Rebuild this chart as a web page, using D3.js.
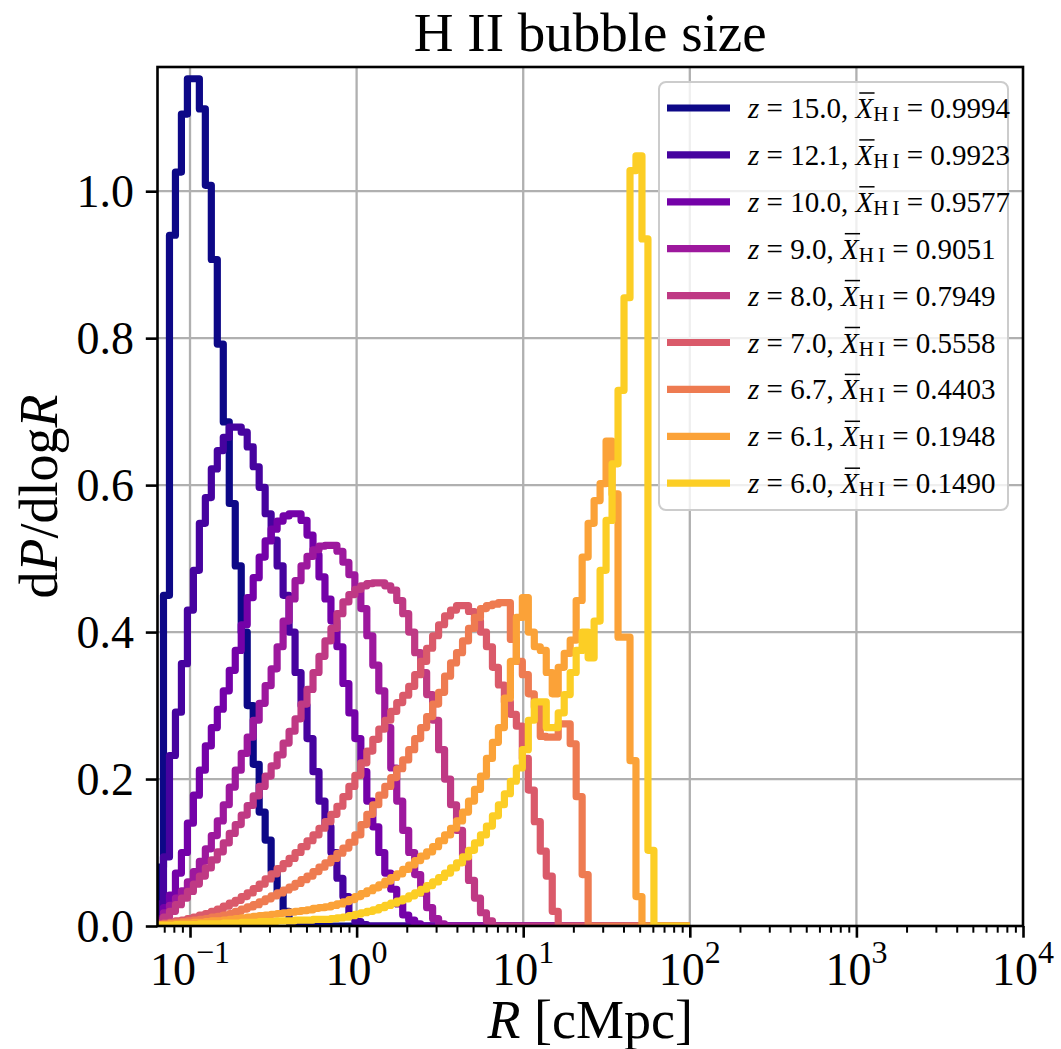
<!DOCTYPE html>
<html>
<head>
<meta charset="utf-8">
<script src="https://cdn.jsdelivr.net/npm/d3@7"></script>
<style>
  body { margin: 0; background: #fff; }
  text { font-family: "Liberation Serif", "Times New Roman", serif; fill: #000; }
</style>
</head>
<body>
<svg id="chart" width="1061" height="1049"></svg>
<script>
// Redshift snapshots and their volume-averaged neutral fractions
const redshifts = [15.0, 12.1, 10.0, 9.0, 8.0, 7.0, 6.7, 6.1, 6.0];
const neutralFractions = [0.9994, 0.9923, 0.9577, 0.9051, 0.7949, 0.5558, 0.4403, 0.1948, 0.1490];

// Logarithmic bins in bubble radius R [cMpc]
const rMin = 0.0638, rMax = 100, nBins = 89;

// dP/dlogR per bin (bins past the listed values are empty)
const pdf_z15_0 = [0.08, 0.45, 0.94, 1.026, 1.105, 1.153, 1.153, 1.112, 1.008, 0.907, 0.792, 0.686, 0.575, 0.49, 0.40, 0.30, 0.22, 0.155, 0.117, 0.075, 0.045, 0.02, 0.005, 0.001];
const pdf_z12_1 = [0.03, 0.094, 0.232, 0.291, 0.357, 0.43, 0.484, 0.548, 0.583, 0.622, 0.647, 0.665, 0.679, 0.679, 0.672, 0.652, 0.625, 0.597, 0.561, 0.525, 0.49, 0.45, 0.40, 0.345, 0.30, 0.255, 0.21, 0.17, 0.135, 0.1, 0.065, 0.04, 0.015, 0.006, 0.002];
const pdf_z10_0 = [0.01, 0.025, 0.042, 0.072, 0.1, 0.14, 0.178, 0.212, 0.245, 0.27, 0.295, 0.32, 0.348, 0.375, 0.41, 0.447, 0.474, 0.502, 0.524, 0.54, 0.551, 0.558, 0.561, 0.561, 0.552, 0.532, 0.505, 0.475, 0.445, 0.415, 0.38, 0.33, 0.29, 0.255, 0.21, 0.17, 0.135, 0.1, 0.072, 0.05, 0.03, 0.015, 0.008, 0.003];
const pdf_z9_0 = [0.008, 0.018, 0.028, 0.038, 0.048, 0.06, 0.074, 0.088, 0.105, 0.123, 0.143, 0.165, 0.189, 0.212, 0.235, 0.257, 0.28, 0.303, 0.327, 0.35, 0.38, 0.415, 0.445, 0.47, 0.49, 0.503, 0.512, 0.517, 0.518, 0.518, 0.51, 0.495, 0.478, 0.458, 0.432, 0.395, 0.355, 0.32, 0.27, 0.215, 0.17, 0.13, 0.1, 0.07, 0.045, 0.025, 0.01, 0.003];
const pdf_z8_0 = [0.005, 0.012, 0.02, 0.029, 0.038, 0.047, 0.057, 0.068, 0.079, 0.09, 0.101, 0.113, 0.126, 0.138, 0.151, 0.164, 0.177, 0.19, 0.204, 0.218, 0.233, 0.249, 0.265, 0.282, 0.302, 0.322, 0.345, 0.367, 0.388, 0.405, 0.425, 0.441, 0.451, 0.458, 0.463, 0.466, 0.467, 0.467, 0.463, 0.457, 0.443, 0.425, 0.4, 0.372, 0.345, 0.315, 0.28, 0.24, 0.2, 0.165, 0.13, 0.095, 0.062, 0.038, 0.018, 0.007];
const pdf_z7_0 = [0.003, 0.004, 0.005, 0.007, 0.008, 0.01, 0.012, 0.015, 0.017, 0.02, 0.023, 0.027, 0.031, 0.035, 0.04, 0.045, 0.051, 0.057, 0.064, 0.071, 0.078, 0.085, 0.092, 0.1, 0.108, 0.116, 0.124, 0.133, 0.142, 0.152, 0.163, 0.176, 0.19, 0.205, 0.222, 0.238, 0.254, 0.268, 0.28, 0.292, 0.304, 0.314, 0.326, 0.342, 0.36, 0.378, 0.395, 0.41, 0.422, 0.43, 0.436, 0.436, 0.428, 0.415, 0.4, 0.38, 0.352, 0.328, 0.305, 0.288, 0.272, 0.228, 0.185, 0.142, 0.102, 0.068, 0.02];
const pdf_z6_7 = [0.002, 0.003, 0.004, 0.005, 0.006, 0.007, 0.008, 0.009, 0.01, 0.012, 0.013, 0.015, 0.017, 0.02, 0.023, 0.026, 0.029, 0.033, 0.037, 0.041, 0.045, 0.049, 0.053, 0.058, 0.063, 0.068, 0.074, 0.08, 0.086, 0.092, 0.099, 0.106, 0.114, 0.124, 0.138, 0.152, 0.165, 0.178, 0.19, 0.202, 0.214, 0.226, 0.24, 0.255, 0.27, 0.285, 0.302, 0.318, 0.34, 0.358, 0.372, 0.388, 0.405, 0.42, 0.432, 0.436, 0.438, 0.44, 0.44, 0.39, 0.36, 0.342, 0.316, 0.298, 0.258, 0.257, 0.257, 0.275, 0.275, 0.248, 0.176, 0.07];
const pdf_z6_1 = [0.002, 0.002, 0.003, 0.003, 0.004, 0.004, 0.005, 0.005, 0.006, 0.007, 0.007, 0.008, 0.009, 0.01, 0.011, 0.012, 0.013, 0.014, 0.015, 0.016, 0.017, 0.018, 0.019, 0.02, 0.021, 0.022, 0.024, 0.025, 0.026, 0.028, 0.03, 0.033, 0.036, 0.04, 0.044, 0.048, 0.052, 0.056, 0.061, 0.066, 0.071, 0.077, 0.083, 0.089, 0.095, 0.101, 0.108, 0.116, 0.124, 0.133, 0.143, 0.155, 0.17, 0.186, 0.204, 0.228, 0.25, 0.27, 0.31, 0.36, 0.42, 0.447, 0.40, 0.38, 0.375, 0.345, 0.316, 0.352, 0.371, 0.389, 0.443, 0.502, 0.548, 0.579, 0.602, 0.66, 0.588, 0.393, 0.393, 0.225, 0.04];
const pdf_z6_0 = [0.001, 0.001, 0.001, 0.002, 0.002, 0.002, 0.002, 0.003, 0.003, 0.003, 0.003, 0.004, 0.004, 0.004, 0.005, 0.005, 0.005, 0.006, 0.006, 0.006, 0.007, 0.007, 0.007, 0.008, 0.008, 0.008, 0.009, 0.009, 0.009, 0.01, 0.011, 0.012, 0.014, 0.016, 0.018, 0.02, 0.022, 0.025, 0.028, 0.031, 0.034, 0.037, 0.041, 0.045, 0.05, 0.055, 0.06, 0.066, 0.072, 0.079, 0.086, 0.094, 0.103, 0.113, 0.124, 0.136, 0.15, 0.165, 0.18, 0.197, 0.215, 0.24, 0.28, 0.305, 0.305, 0.27, 0.27, 0.29, 0.315, 0.345, 0.375, 0.40, 0.365, 0.415, 0.484, 0.552, 0.629, 0.729, 0.855, 1.028, 1.048, 0.935, 0.103];

// Axis ticks
const yTicks = [0.0, 0.2, 0.4, 0.6, 0.8, 1.0];
const xTickExponents = [-1, 0, 1, 2, 3, 4];

const W = 1061, H = 1049;
const plot = { left: 157.5, right: 1023, top: 67, bottom: 926 };
const FONT_TICK = 46, FONT_LABEL = 54, FONT_TITLE = 55, FONT_LEGEND = 29;
const LINE_W = 7.2;

const svg = d3.select("#chart");
svg.append("rect").attr("width", W).attr("height", H).attr("fill", "#fff");

const x = d3.scaleLog().domain([rMin, 1e4]).range([plot.left, plot.right]);
const y = d3.scaleLinear().domain([0, 1.169]).range([plot.bottom, plot.top]);

const edges = d3.range(nBins + 1).map(i => rMin * Math.pow(rMax / rMin, i / nBins));

const pdfs = [pdf_z15_0, pdf_z12_1, pdf_z10_0, pdf_z9_0, pdf_z8_0, pdf_z7_0, pdf_z6_7, pdf_z6_1, pdf_z6_0];
const series = pdfs.map((vals, k) => ({
  values: vals.concat(new Array(nBins - vals.length).fill(0)),
  color: d3.interpolatePlasma(0.9 * k / (pdfs.length - 1)),
  z: redshifts[k],
  xhi: neutralFractions[k]
}));

// Grid
const grid = svg.append("g").attr("stroke", "#b0b0b0").attr("stroke-width", 2.3);
xTickExponents.filter(e => e < 4).forEach(e => {
  const gx = x(Math.pow(10, e));
  grid.append("line").attr("x1", gx).attr("x2", gx).attr("y1", plot.top).attr("y2", plot.bottom);
});
yTicks.filter(t => t > 0).forEach(t => {
  grid.append("line").attr("x1", plot.left).attr("x2", plot.right).attr("y1", y(t)).attr("y2", y(t));
});

// Step histograms
svg.append("clipPath").attr("id", "plot-clip")
  .append("rect").attr("x", plot.left).attr("y", plot.top)
  .attr("width", plot.right - plot.left).attr("height", plot.bottom - plot.top);

const line = d3.line().x(d => x(d[0])).y(d => y(d[1])).curve(d3.curveStepAfter);
const lines = svg.append("g").attr("clip-path", "url(#plot-clip)");
series.forEach(s => {
  const pts = [[edges[0], 0]];
  s.values.forEach((v, i) => pts.push([edges[i], v]));
  pts.push([edges[nBins], s.values[nBins - 1]]);
  pts.push([edges[nBins], 0]);
  lines.append("path").attr("d", line(pts))
    .attr("fill", "none").attr("stroke", s.color)
    .attr("stroke-width", LINE_W).attr("stroke-linejoin", "round");
});

// Axes
const majorTicks = xTickExponents.map(e => Math.pow(10, e));
const minorTicks = [];
for (let e = -2; e < 4; e++) for (let k = 2; k <= 9; k++) {
  const v = k * Math.pow(10, e);
  if (v >= rMin && v <= 1e4) minorTicks.push(v);
}
const gxMinor = svg.append("g").attr("transform", `translate(0,${plot.bottom})`)
  .call(d3.axisBottom(x).tickValues(minorTicks).tickSize(6.7).tickFormat(() => ""));
const gxMajor = svg.append("g").attr("transform", `translate(0,${plot.bottom})`)
  .call(d3.axisBottom(x).tickValues(majorTicks).tickSize(11.7).tickFormat(() => ""));
gxMinor.select(".domain").remove();
gxMajor.select(".domain").remove();
gxMinor.selectAll(".tick line").attr("stroke", "#000").attr("stroke-width", 2.0);
gxMajor.selectAll(".tick line").attr("stroke", "#000").attr("stroke-width", 2.6);

xTickExponents.forEach(e => {
  const t = svg.append("text").attr("x", x(Math.pow(10, e))).attr("y", 985)
    .attr("text-anchor", "middle").attr("font-size", FONT_TICK);
  t.append("tspan").text("10");
  t.append("tspan").attr("font-size", 32).attr("dy", -22).text(e < 0 ? "\u2212" + (-e) : String(e));
});

const gy = svg.append("g").attr("transform", `translate(${plot.left},0)`)
  .call(d3.axisLeft(y).tickValues(yTicks).tickSize(11.7).tickPadding(11.7).tickFormat(d3.format(".1f")));
gy.select(".domain").remove();
gy.selectAll(".tick line").attr("stroke", "#000").attr("stroke-width", 2.6);
gy.selectAll(".tick text").attr("font-size", FONT_TICK).attr("dy", "0.34em")
  .attr("font-family", "Liberation Serif, Times New Roman, serif").attr("fill", "#000");

// Frame
svg.append("rect").attr("x", plot.left).attr("y", plot.top)
  .attr("width", plot.right - plot.left).attr("height", plot.bottom - plot.top)
  .attr("fill", "none").attr("stroke", "#000").attr("stroke-width", 2.6);

// Title and axis labels
svg.append("text").attr("x", (plot.left + plot.right) / 2).attr("y", 51)
  .attr("text-anchor", "middle").attr("font-size", FONT_TITLE).text("H II bubble size");

const xl = svg.append("text").attr("x", (plot.left + plot.right) / 2).attr("y", 1038)
  .attr("text-anchor", "middle").attr("font-size", FONT_LABEL);
xl.append("tspan").attr("font-style", "italic").text("R");
xl.append("tspan").text(" [cMpc]");

const yl = svg.append("text")
  .attr("transform", `translate(57,${(plot.top + plot.bottom) / 2}) rotate(-90)`)
  .attr("text-anchor", "middle").attr("font-size", FONT_LABEL);
yl.append("tspan").text("d");
yl.append("tspan").attr("font-style", "italic").text("P");
yl.append("tspan").text("/dlog");
yl.append("tspan").attr("font-style", "italic").text("R");

// Legend
const legend = svg.append("g");
const box = { x: 659, y: 82, w: 349, h: 428 };
legend.append("rect").attr("x", box.x).attr("y", box.y).attr("width", box.w).attr("height", box.h)
  .attr("rx", 7).attr("ry", 7)
  .attr("fill", "#fff").attr("fill-opacity", 0.8)
  .attr("stroke", "#cccccc").attr("stroke-width", 2);

const rowStep = 46.9, firstRow = 108;
series.forEach((s, k) => {
  const cy = firstRow + k * rowStep;
  legend.append("line").attr("x1", 667).attr("x2", 730).attr("y1", cy).attr("y2", cy)
    .attr("stroke", s.color).attr("stroke-width", LINE_W);
  const base = cy + 10;
  const t = legend.append("text").attr("x", 748).attr("y", base).attr("font-size", FONT_LEGEND);
  const mid = " = " + s.z.toFixed(1) + ", ";
  t.append("tspan").attr("font-style", "italic").text("z");
  t.append("tspan").text(mid);
  t.append("tspan").attr("font-style", "italic").text("X");
  t.append("tspan").attr("font-size", 21).attr("dy", 3).text("H\u2009I");
  t.append("tspan").attr("dy", -3).text(" = " + s.xhi.toFixed(4));
  const ext = t.node().getExtentOfChar(("z" + mid).length);
  legend.append("line")
    .attr("x1", ext.x + ext.width * 0.22).attr("x2", ext.x + ext.width * 1.08)
    .attr("y1", base - 25).attr("y2", base - 25)
    .attr("stroke", "#000").attr("stroke-width", 1.5);
});
</script>
</body>
</html>
